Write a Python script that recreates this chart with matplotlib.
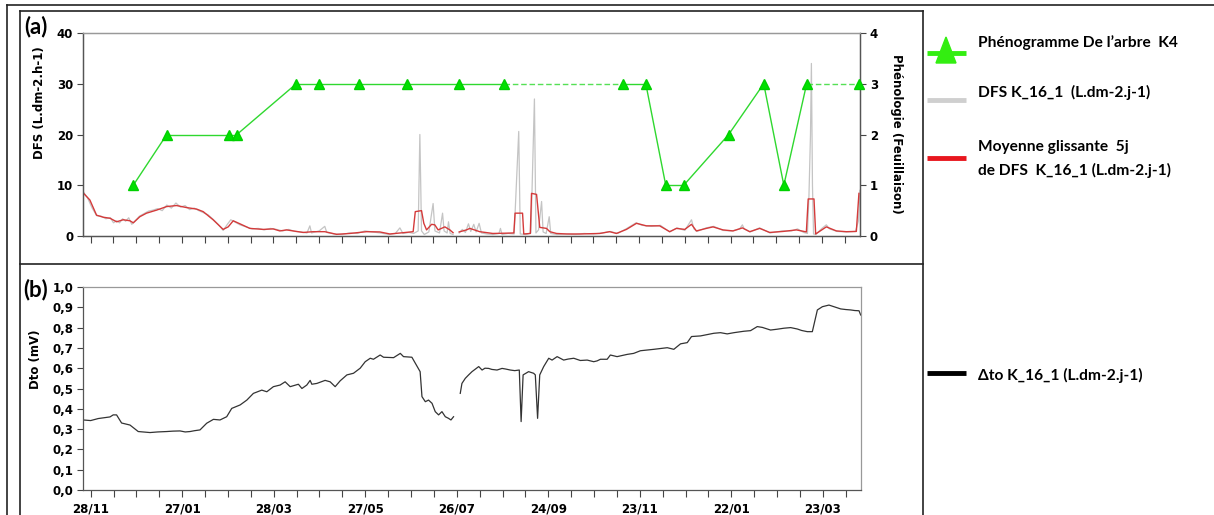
import numpy as np
import matplotlib
matplotlib.use('Agg')
import matplotlib.pyplot as plt
import matplotlib.dates as mdates
from matplotlib.lines import Line2D
from matplotlib.patches import Polygon
from matplotlib.ticker import FixedLocator, FuncFormatter, MultipleLocator

# ---------------- data (days counted from 28/11) ----------------
START = np.datetime64('2013-11-28')

tick_days = list(range(0, 496, 15))
label_days = list(range(0, 481, 60))

pheno_days = [28, 50, 91, 96, 135, 150, 176, 207.5, 241.7, 271.2, 349.3, 364.4,
              377.5, 389.3, 418.8, 441.8, 455, 470, 504.3]
pheno_vals = [1, 2, 2, 2, 3, 3, 3, 3, 3, 3, 3, 3, 1, 1, 2, 3, 1, 3, 3]
pheno_dashed_segments = [9, 17]

dfs_mean_points = [
    (-4.9, 8.5), (-0.5, 7.1), (3.9, 4.1), (8.3, 3.7), (12.7, 3.5), (17.1, 2.8),
    (21.4, 3.2), (25.8, 3.0), (28.0, 2.6), (32.3, 3.8), (36.7, 4.5), (43.3, 5.1),
    (49.9, 5.8), (56.4, 6.0), (63.0, 5.6), (69.6, 5.3), (73.9, 4.8), (80.4, 3.2),
    (87.0, 1.3), (90.3, 1.8), (93.6, 3.0), (98.0, 2.4), (104.5, 1.5), (113.3, 1.3),
    (119.8, 1.4), (124.2, 1.0), (128.6, 1.2), (139.5, 0.7), (146.1, 0.85), (153.7, 0.85),
    (161.4, 0.33), (170.1, 0.5), (181.1, 0.85), (189.8, 0.8), (196.4, 0.4), (205.1, 0.65),
    (211.7, 0.85), (213.1, 4.8), (217.2, 5.0), (218.7, 2.5), (220.5, 1.2), (223.8, 2.3),
    (225.9, 2.2), (228.1, 1.2), (230.3, 1.5), (232.5, 1.8), (235.8, 1.2), (237.9, 0.65),
    (239.5, np.nan),
    (241.9, 0.8), (246.7, 1.2), (248.9, 1.5), (255.4, 0.85), (264.0, 0.5), (271.9, 0.55),
    (277.8, 0.6), (278.6, 4.5), (283.5, 4.5), (284.3, 0.4), (288.6, 0.5), (289.4, 8.4),
    (292.7, 8.2), (294.8, 1.7), (299.2, 1.5), (301.4, 0.85), (305.8, 0.5), (312.3, 0.4),
    (321.1, 0.4), (334.2, 0.5), (340.7, 0.85), (345.1, 0.5), (351.7, 1.3), (358.3, 2.5),
    (364.8, 2.0), (373.5, 2.0), (380.1, 0.85), (384.5, 1.5), (390.0, 1.3), (394.4, 2.3),
    (397.6, 1.0), (404.2, 1.5), (408.5, 1.8), (415.1, 1.2), (421.7, 1.0), (427.8, 1.6),
    (432.6, 0.85), (439.2, 1.5), (445.7, 0.7), (454.5, 0.9), (463.3, 1.2), (469.8, 0.8),
    (471.0, 7.3), (474.8, 7.3), (475.9, 0.4), (482.9, 1.8), (489.5, 1.0), (496.0, 0.85),
    (502.6, 0.9), (504.3, 8.4),
]

dfs_raw_points = [
    (-5, 8.8), (-2, 7.5), (1, 5.5), (4, 4.0), (7, 3.9), (10, 3.4), (13, 3.6), (15, 2.6),
    (17, 3.0), (19, 2.6), (21, 3.4), (23, 2.9), (25, 3.6), (27, 2.3), (29, 2.9), (32, 3.9),
    (35, 4.4), (38, 4.9), (41, 5.1), (44, 5.4), (47, 5.0), (50, 6.1), (53, 5.5), (56, 6.5),
    (59, 5.7), (62, 6.0), (65, 5.2), (68, 5.5), (71, 5.0), (74, 4.6), (77, 4.2), (80, 3.4),
    (84, 2.2), (87, 1.1), (90, 2.4), (92, 3.2), (95, 2.7), (98, 2.2), (102, 1.8), (106, 1.4),
    (110, 1.5), (114, 1.2), (118, 1.5), (122, 1.3), (126, 1.0), (130, 1.3), (134, 0.9),
    (138, 0.8), (142, 0.6), (143.9, 2.0), (145, 0.6), (150, 1.0), (153.7, 1.9), (155, 0.7),
    (160, 0.4), (165, 0.3), (170, 0.6), (175, 0.5), (180, 1.0), (185, 0.8), (190, 0.6),
    (196, 0.3), (200, 0.5), (203, 1.6), (205, 0.5), (209, 0.7), (212, 0.5), (215, 1.0),
    (216.1, 20.0), (217.2, 1.0), (219, 0.3), (222, 0.8), (224.8, 6.4), (226, 1.0), (229, 0.6),
    (231, 4.5), (232, 1.0), (234, 0.6), (234.9, 2.8), (236, 0.5), (237.9, 0.3),
    (239.5, np.nan),
    (241.9, 0.6), (244, 1.3), (246, 0.7), (248, 2.4), (249.5, 0.9), (251.5, 2.3), (253, 0.8),
    (255, 2.5), (256.5, 0.6), (260, 0.4), (264, 0.3), (268, 0.5), (269, 1.5), (270, 0.3),
    (274, 0.5), (278, 0.4), (281, 20.6), (282, 0.4), (286, 0.3), (289, 0.6), (291.3, 27.0),
    (292.3, 0.6), (294, 1.2), (296, 6.8), (297, 0.8), (299, 0.5), (301, 3.8), (302, 0.5),
    (306, 0.3), (312, 0.4), (318, 0.3), (324, 0.5), (330, 0.4), (336, 0.6), (341, 0.9),
    (346, 0.5), (352, 1.5), (358, 2.6), (362, 2.1), (368, 1.9), (374, 2.1), (380, 0.8),
    (385, 1.6), (390, 1.1), (394.4, 3.2), (396, 1.4), (398, 0.9), (404, 1.6), (409, 1.9),
    (415, 1.1), (421, 1.0), (426, 1.4), (427.8, 2.2), (429, 1.4), (433, 0.8), (439, 1.6),
    (446, 0.6), (454, 1.0), (460, 1.0), (464, 1.4), (468, 0.7), (470.5, 0.5), (471.5, 8.0),
    (472.5, 20.0), (473.1, 34.0), (473.8, 10.0), (474.5, 0.4), (476, 0.3), (480, 1.5),
    (482.9, 2.2), (485, 1.4), (490, 0.9), (496, 0.8), (502, 0.9), (504, 3.0), (505, 9.0),
]

dto_points = [
    (-4.9, 0.345), (0.0, 0.342), (5.0, 0.352), (9.0, 0.356), (12.7, 0.360), (14.8, 0.370),
    (17.0, 0.370), (20.3, 0.330), (25.8, 0.320),
    (31.2, 0.288), (38.9, 0.283), (44.0, 0.286), (49.9, 0.288), (54.0, 0.290), (58.6, 0.291),
    (62.0, 0.286), (65.2, 0.288), (68.0, 0.292), (71.7, 0.296),
    (76.1, 0.329), (80.5, 0.348), (84.8, 0.345), (89.2, 0.361), (92.5, 0.402), (98.0, 0.419),
    (102.4, 0.443), (106.7, 0.476), (112.2, 0.492), (115.5, 0.484), (119.8, 0.509),
    (124.2, 0.517), (127.5, 0.533), (130.8, 0.509), (136.2, 0.521), (138.5, 0.500),
    (141.7, 0.517), (143.9, 0.540), (145.0, 0.521), (148.3, 0.525), (153.7, 0.540),
    (157.0, 0.533), (160.3, 0.509), (163.6, 0.538), (168.0, 0.567), (172.3, 0.575),
    (176.7, 0.600), (180.0, 0.632), (183.3, 0.649), (185.4, 0.644), (189.8, 0.665),
    (192.0, 0.654), (198.6, 0.652), (203.0, 0.673), (205.1, 0.657), (210.6, 0.654),
    (216.0, 0.583), (217.2, 0.460), (219.4, 0.435), (221.5, 0.443), (223.8, 0.427),
    (225.9, 0.386), (228.1, 0.370), (230.3, 0.386), (232.5, 0.361), (234.6, 0.353),
    (236.2, 0.345), (237.9, 0.361),
    (240.0, np.nan),
    (242.3, 0.476), (243.4, 0.525), (245.6, 0.550), (247.8, 0.567), (250.0, 0.583),
    (254.4, 0.608), (256.6, 0.591), (258.5, 0.600), (260.9, 0.599), (263.0, 0.594),
    (266.4, 0.591), (269.7, 0.599), (272.0, 0.596),
    (275.1, 0.591), (278.0, 0.588), (281.0, 0.591), (282.2, 0.337), (283.5, 0.567),
    (287.1, 0.583), (290.4, 0.575), (291.5, 0.567), (293.0, 0.353), (294.4, 0.567),
    (297.0, 0.608), (300.3, 0.649), (302.5, 0.640), (305.8, 0.657), (310.1, 0.640),
    (313.0, 0.645), (316.7, 0.649), (321.0, 0.638),
    (325.5, 0.640), (329.8, 0.632), (332.0, 0.636), (334.2, 0.644), (338.6, 0.644),
    (340.7, 0.665), (345.1, 0.657), (351.7, 0.668), (356.0, 0.673), (360.4, 0.686),
    (369.2, 0.693), (378.0, 0.701), (382.3, 0.693), (386.7, 0.720), (391.1, 0.726),
    (393.9, 0.756), (399.8, 0.759), (408.5, 0.772), (412.9, 0.775), (417.3, 0.769),
    (421.7, 0.775), (428.2, 0.782), (432.6, 0.785), (437.0, 0.805), (440.3, 0.801),
    (445.7, 0.788), (450.0, 0.792), (454.5, 0.797), (458.9, 0.800), (463.3, 0.793),
    (466.0, 0.786), (469.8, 0.780), (473.1, 0.780),
    (476.4, 0.887), (479.7, 0.903), (484.0, 0.911), (487.3, 0.903), (491.7, 0.892),
    (495.0, 0.889), (498.2, 0.887), (501.0, 0.884), (503.7, 0.883), (504.8, 0.862),
]

legend_labels = ["Phénogramme De l\u2019arbre  K4", "DFS K_16_1  (L.dm-2.j-1)",
                 "Moyenne glissante  5j", "de DFS  K_16_1 (L.dm-2.j-1)",
                 "\u0394to K_16_1 (L.dm-2.j-1)"]

# ---------------- helpers ----------------
W, H = 1214, 515
base = mdates.date2num(START)


def dn(days):
    return base + np.asarray(days, dtype=float)


def fx(x):
    return x / W


def fy(y):
    return 1 - y / H


fig = plt.figure(figsize=(W / 100, H / 100), dpi=100)
fig.patch.set_facecolor('white')

BOLD = dict(family='DejaVu Sans', weight='bold')
TXT = dict(family=['Lato', 'DejaVu Sans'], weight='bold')

xmin, xmax = dn(-5), dn(505)


def style_x(ax, labels):
    ax.set_xlim(xmin, xmax)
    ax.xaxis.set_major_locator(FixedLocator(dn(label_days)))
    ax.xaxis.set_minor_locator(FixedLocator(dn(tick_days)))
    if labels:
        ax.xaxis.set_major_formatter(mdates.DateFormatter('%d/%m'))
    else:
        ax.xaxis.set_major_formatter(FuncFormatter(lambda v, p: ''))
    ax.tick_params(axis='x', which='both', direction='out', length=5, width=0.8,
                   color='#444444', labelsize=8.5, pad=4)
    for lab in ax.get_xticklabels():
        lab.set_fontweight('bold')


def style_spines(ax):
    for s in ['left', 'bottom', 'right']:
        ax.spines[s].set_color('#555555')
        ax.spines[s].set_linewidth(0.9)
    ax.spines['top'].set_color('#999999')
    ax.spines['top'].set_linewidth(0.9)


# ---------------- panel (a) ----------------
ax1 = fig.add_axes([fx(83), fy(236), (860 - 83) / W, (236 - 33) / H])
raw = np.array(dfs_raw_points)
mean = np.array(dfs_mean_points)
ax1.plot(dn(raw[:, 0]), raw[:, 1], color='#c4c4c4', lw=0.9, zorder=2)
ax1.plot(dn(mean[:, 0]), mean[:, 1], color='#d43a3a', lw=1.0, zorder=3)
ax1.set_ylim(0, 40)
ax1.yaxis.set_major_locator(MultipleLocator(10))
ax1.tick_params(axis='y', direction='out', length=4, width=0.8, color='#444444',
                labelsize=8.5, pad=3)
for lab in ax1.get_yticklabels():
    lab.set_fontweight('bold')
style_x(ax1, labels=False)
style_spines(ax1)

ax1r = ax1.twinx()
ax1r.set_ylim(0, 4)
ax1r.yaxis.set_major_locator(MultipleLocator(1))
ax1r.tick_params(axis='y', direction='out', length=4, width=0.8, color='#444444',
                 labelsize=8.5, pad=3)
for lab in ax1r.get_yticklabels():
    lab.set_fontweight('bold')
style_spines(ax1r)
pd_ = dn(pheno_days)
for i in range(len(pheno_days) - 1):
    dashed = i in pheno_dashed_segments
    ax1r.plot(pd_[i:i + 2], pheno_vals[i:i + 2], color='#55e055' if dashed else '#2fd82f',
              lw=1.0, ls=(0, (4, 2)) if dashed else '-', zorder=3)
ax1r.plot(pd_, pheno_vals, ls='none', marker='^', ms=7, color='#00e000',
          markeredgecolor='#00d000', zorder=4, clip_on=False)
ax1r.set_xlim(xmin, xmax)

fig.text(fx(39), fy(103), 'DFS (L.dm-2.h-1)', rotation=90, ha='center', va='center',
         fontsize=8.5, **BOLD)
fig.text(fx(897), fy(134), 'Phénologie (Feuillaison)', rotation=270, ha='center',
         va='center', fontsize=8.5, **BOLD)
fig.text(fx(36), fy(27), '(a)', ha='center', va='center', fontsize=16,
         family=['Lato', 'DejaVu Sans'], weight='bold')

# ---------------- panel (b) ----------------
ax2 = fig.add_axes([fx(83), fy(490), (861 - 83) / W, (490 - 287) / H])
dto = np.array(sorted(dto_points, key=lambda t: t[0]))
ax2.plot(dn(dto[:, 0]), dto[:, 1], color='#333333', lw=0.9)
ax2.set_ylim(0, 1.0)
ax2.yaxis.set_major_locator(MultipleLocator(0.1))
ax2.yaxis.set_major_formatter(FuncFormatter(lambda v, p: f"{v:.1f}".replace('.', ',')))
ax2.tick_params(axis='y', direction='out', length=4, width=0.8, color='#444444',
                labelsize=8.5, pad=3)
for lab in ax2.get_yticklabels():
    lab.set_fontweight('bold')
style_x(ax2, labels=True)
style_spines(ax2)
ax2.spines['right'].set_color('#999999')

fig.text(fx(35), fy(359), 'Dto (mV)', rotation=90, ha='center', va='center',
         fontsize=8.5, **BOLD)
fig.text(fx(36), fy(290), '(b)', ha='center', va='center', fontsize=16,
         family=['Lato', 'DejaVu Sans'], weight='bold')

# ---------------- frames ----------------
frame_lines = [((7, 5), (1214, 5)), ((7, 5), (7, 515)), ((20, 11), (923, 11)),
               ((20, 11), (20, 515)), ((923, 11), (923, 515)), ((20, 264), (923, 264))]
for (x0, y0), (x1, y1) in frame_lines:
    fig.add_artist(Line2D([fx(x0), fx(x1)], [fy(y0), fy(y1)], transform=fig.transFigure,
                          color='#222222', lw=1.2))

# ---------------- legend ----------------
def leg_line(y, color):
    fig.add_artist(Line2D([fx(927), fx(966)], [fy(y), fy(y)], transform=fig.transFigure,
                          color=color, lw=3.5, solid_capstyle='butt'))


leg_line(53, '#33ee11')
fig.add_artist(Polygon([(fx(936), fy(63)), (fx(956), fy(63)), (fx(946), fy(37))],
                       closed=True, transform=fig.transFigure, color='#33ee11'))
leg_line(100, '#cfcfcf')
leg_line(158, '#e8161e')
leg_line(373, '#000000')

LFS = 11.2
fig.text(fx(978), fy(43), legend_labels[0], ha='left', va='center', fontsize=LFS, **TXT)
fig.text(fx(978), fy(92), legend_labels[1], ha='left', va='center', fontsize=LFS, **TXT)
fig.text(fx(978), fy(147), legend_labels[2], ha='left', va='center', fontsize=LFS, **TXT)
fig.text(fx(978), fy(170), legend_labels[3], ha='left', va='center', fontsize=LFS, **TXT)
fig.text(fx(978), fy(375), legend_labels[4], ha='left', va='center', fontsize=LFS, **TXT)

fig.savefig('out.png', dpi=100, facecolor='white')
